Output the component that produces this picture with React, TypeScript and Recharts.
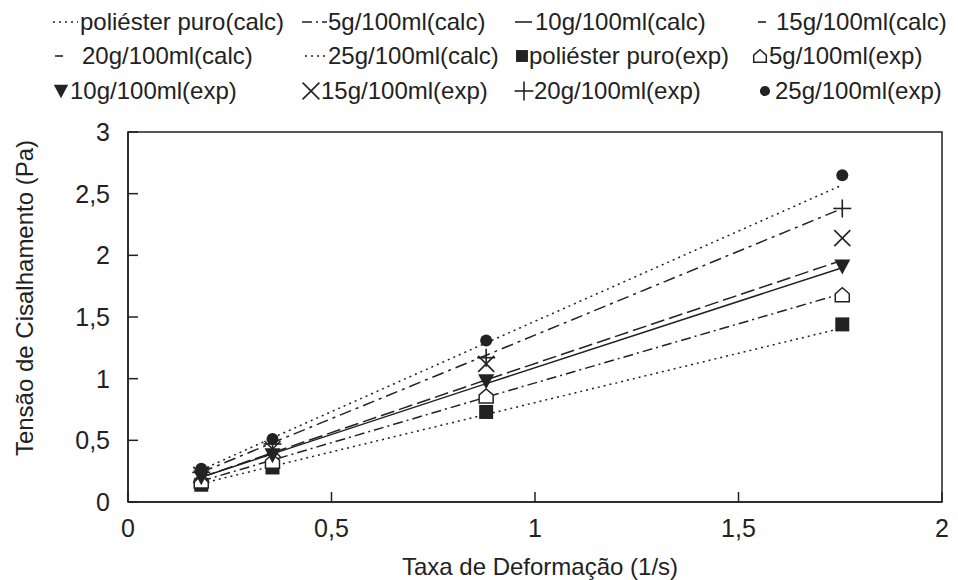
import React from "react";
import { LineChart, Line, XAxis, YAxis, ReferenceArea } from "recharts";

// shear rate (1/s)
const shearRate = [0.18, 0.355, 0.88, 1.755];

// calculated curves (Pa)
const puroCalc = [0.15, 0.29, 0.71, 1.41];
const g5Calc = [0.17, 0.34, 0.85, 1.69];
const g10Calc = [0.2, 0.39, 0.96, 1.9];
const g15Calc = [0.2, 0.4, 0.99, 1.96];
const g20Calc = [0.24, 0.48, 1.19, 2.38];
const g25Calc = [0.26, 0.52, 1.29, 2.57];

// experimental points (Pa)
const puroExp = [0.14, 0.28, 0.73, 1.44];
const g5Exp = [0.17, 0.33, 0.86, 1.68];
const g10Exp = [0.2, 0.38, 0.98, 1.91];
const g15Exp = [0.22, 0.43, 1.12, 2.14];
const g20Exp = [0.24, 0.47, 1.17, 2.38];
const g25Exp = [0.27, 0.51, 1.31, 2.65];

const xTicks = [0, 0.5, 1, 1.5, 2];
const yTicks = [0, 0.5, 1, 1.5, 2, 2.5, 3];

const INK = "#222";
const FONT = "'Liberation Sans', Arial, sans-serif";

type Marker = "square" | "house" | "triDown" | "cross" | "plus" | "circle";

const calcSeries = [
  { key: "puroCalc", name: "poliéster puro(calc)", values: puroCalc, dash: "2 4" },
  { key: "g5Calc", name: "5g/100ml(calc)", values: g5Calc, dash: "10 4 2 4" },
  { key: "g10Calc", name: "10g/100ml(calc)", values: g10Calc, dash: "" },
  { key: "g15Calc", name: "15g/100ml(calc)", values: g15Calc, dash: "14 5" },
  { key: "g20Calc", name: "20g/100ml(calc)", values: g20Calc, dash: "12 5 3 5" },
  { key: "g25Calc", name: "25g/100ml(calc)", values: g25Calc, dash: "2 4" },
];

const expSeries: { key: string; name: string; values: number[]; marker: Marker }[] = [
  { key: "puroExp", name: "poliéster puro(exp)", values: puroExp, marker: "square" },
  { key: "g5Exp", name: "5g/100ml(exp)", values: g5Exp, marker: "house" },
  { key: "g10Exp", name: "10g/100ml(exp)", values: g10Exp, marker: "triDown" },
  { key: "g15Exp", name: "15g/100ml(exp)", values: g15Exp, marker: "cross" },
  { key: "g20Exp", name: "20g/100ml(exp)", values: g20Exp, marker: "plus" },
  { key: "g25Exp", name: "25g/100ml(exp)", values: g25Exp, marker: "circle" },
];

const data = shearRate.map((x, i) => {
  const row: Record<string, number> = { x };
  calcSeries.forEach((s) => (row[s.key] = s.values[i]));
  expSeries.forEach((s) => (row[s.key] = s.values[i]));
  return row;
});

function MarkerShape({ type, cx, cy, s = 1 }: { type: Marker; cx: number; cy: number; s?: number }) {
  switch (type) {
    case "square":
      return <rect x={cx - 7 * s} y={cy - 7 * s} width={14 * s} height={14 * s} fill={INK} />;
    case "house":
      return (
        <polygon
          points={`${cx - 7 * s},${cy + 7 * s} ${cx + 7 * s},${cy + 7 * s} ${cx + 7 * s},${cy - 1 * s} ${cx},${cy - 7 * s} ${cx - 7 * s},${cy - 1 * s}`}
          fill="#fff"
          stroke={INK}
          strokeWidth={1.5}
        />
      );
    case "triDown":
      return (
        <polygon
          points={`${cx - 8 * s},${cy - 7 * s} ${cx + 8 * s},${cy - 7 * s} ${cx},${cy + 8 * s}`}
          fill={INK}
        />
      );
    case "cross":
      return (
        <g stroke={INK} strokeWidth={1.6}>
          <line x1={cx - 8 * s} y1={cy - 8 * s} x2={cx + 8 * s} y2={cy + 8 * s} />
          <line x1={cx - 8 * s} y1={cy + 8 * s} x2={cx + 8 * s} y2={cy - 8 * s} />
        </g>
      );
    case "plus":
      return (
        <g stroke={INK} strokeWidth={1.6}>
          <line x1={cx - 9 * s} y1={cy} x2={cx + 9 * s} y2={cy} />
          <line x1={cx} y1={cy - 9 * s} x2={cx} y2={cy + 9 * s} />
        </g>
      );
    default:
      return <circle cx={cx} cy={cy} r={6 * s} fill={INK} />;
  }
}

// legend: 3 rows x 4 columns, as in the figure
const legendRows = [
  [
    { kind: "line", dash: "2 4", label: calcSeries[0].name, iconX: 53, iconW: 25, textX: 80 },
    { kind: "line", dash: "10 4 2 4", label: calcSeries[1].name, iconX: 302, iconW: 25, textX: 328 },
    { kind: "line", dash: "", label: calcSeries[2].name, iconX: 515, iconW: 17, textX: 535 },
    { kind: "line", dash: "", label: calcSeries[3].name, iconX: 758, iconW: 8, textX: 776 },
  ],
  [
    { kind: "line", dash: "", label: calcSeries[4].name, iconX: 55, iconW: 8, textX: 82 },
    { kind: "line", dash: "2 4", label: calcSeries[5].name, iconX: 305, iconW: 21, textX: 328 },
    { kind: "square", label: expSeries[0].name, iconX: 522, textX: 529, s: 0.85 },
    { kind: "house", label: expSeries[1].name, iconX: 760, textX: 769, s: 0.9 },
  ],
  [
    { kind: "triDown", label: expSeries[2].name, iconX: 61, textX: 70, s: 0.9 },
    { kind: "cross", label: expSeries[3].name, iconX: 311, textX: 321, s: 1.05 },
    { kind: "plus", label: expSeries[4].name, iconX: 524, textX: 534, s: 1.05 },
    { kind: "circle", label: expSeries[5].name, iconX: 765, textX: 775, s: 0.85 },
  ],
];
const legendBaselines = [30, 64, 99];

function ChartLegend() {
  return (
    <svg width={958} height={120} style={{ position: "absolute", left: 0, top: 0, pointerEvents: "none" }}>
      {legendRows.map((row, r) =>
        row.map((it: any, c) => {
          const base = legendBaselines[r];
          const iy = base - 8;
          return (
            <g key={`${r}-${c}`}>
              {it.kind === "line" ? (
                <line
                  x1={it.iconX}
                  x2={it.iconX + it.iconW}
                  y1={iy}
                  y2={iy}
                  stroke={INK}
                  strokeWidth={1.6}
                  strokeDasharray={it.dash || undefined}
                />
              ) : (
                <MarkerShape type={it.kind} cx={it.iconX} cy={iy} s={it.s} />
              )}
              <text x={it.textX} y={base} fontSize={24} fontFamily={FONT} fill={INK}>
                {it.label}
              </text>
            </g>
          );
        })
      )}
    </svg>
  );
}

const fmt = (v: number) => String(v).replace(".", ",");

export default function App() {
  return (
    <div style={{ position: "absolute", left: 0, top: 0, width: 958, height: 580, background: "#fff" }}>
      <LineChart
        width={958}
        height={580}
        data={data}
        margin={{ top: 132, right: 16, bottom: 0, left: 0 }}
        style={{ fontFamily: FONT }}
      >
        <ReferenceArea x1={0} x2={2} y1={0} y2={3} fill="none" stroke={INK} strokeWidth={1.5} />
        <XAxis
          dataKey="x"
          type="number"
          domain={[0, 2]}
          ticks={xTicks}
          tickFormatter={fmt}
          height={78}
          tickSize={-10}
          tickMargin={27}
          stroke={INK}
          strokeWidth={1.5}
          tick={{ fontSize: 25, fill: INK }}
          allowDataOverflow
          label={{
            content: () => (
              <text x={540} y={575} textAnchor="middle" fontSize={24} fontFamily={FONT} fill={INK}>
                Taxa de Deformação (1/s)
              </text>
            ),
          }}
        />
        <YAxis
          type="number"
          domain={[0, 3]}
          ticks={yTicks}
          tickFormatter={fmt}
          width={128}
          tickSize={-10}
          tickMargin={28}
          stroke={INK}
          strokeWidth={1.5}
          tick={{ fontSize: 25, fill: INK }}
          allowDataOverflow
          label={{
            content: () => (
              <text
                transform="translate(33,298) rotate(-90)"
                textAnchor="middle"
                fontSize={24}
                fontFamily={FONT}
                fill={INK}
              >
                Tensão de Cisalhamento (Pa)
              </text>
            ),
          }}
        />
        {calcSeries.map((s) => (
          <Line
            key={s.key}
            dataKey={s.key}
            name={s.name}
            stroke={INK}
            strokeWidth={1.5}
            strokeDasharray={s.dash || undefined}
            dot={false}
            activeDot={false}
            type="linear"
            isAnimationActive={false}
          />
        ))}
        {expSeries.map((s) => (
          <Line
            key={s.key}
            dataKey={s.key}
            name={s.name}
            stroke="none"
            activeDot={false}
            isAnimationActive={false}
            dot={(p: any) => (
              <MarkerShape key={`${s.key}-${p.index}`} type={s.marker} cx={p.cx} cy={p.cy} />
            )}
          />
        ))}
      </LineChart>
      <ChartLegend />
    </div>
  );
}
